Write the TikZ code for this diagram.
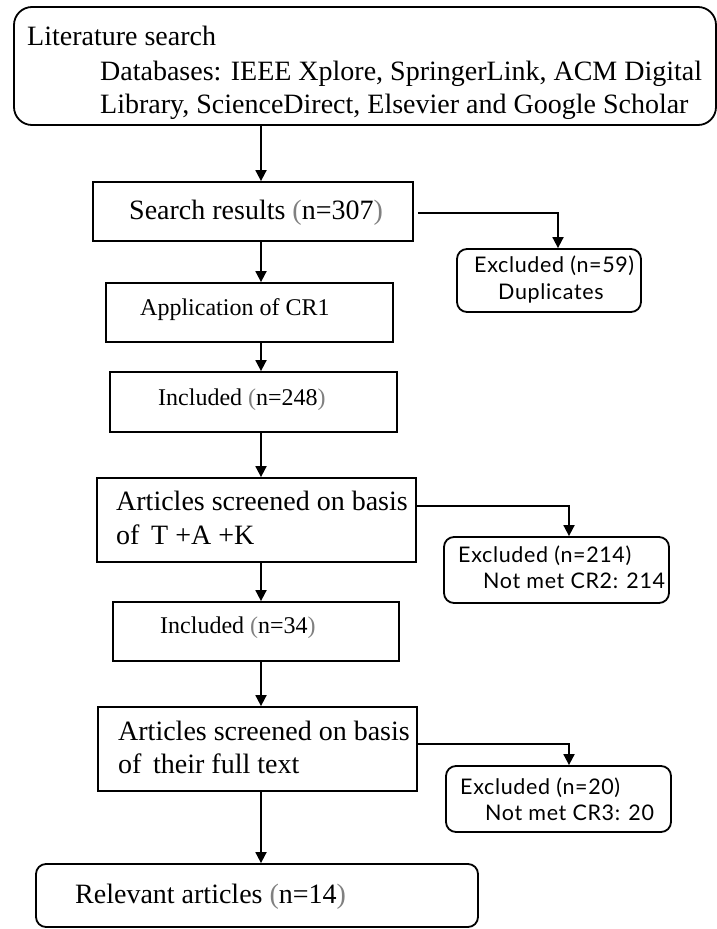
\documentclass[tikz,border=0pt]{standalone}
\usepackage{fontspec}
\setmainfont{Liberation Serif}
\newfontfamily\sansf[LetterSpace=3]{Lato}
\usetikzlibrary{arrows.meta}
\newcommand\gp[1]{\textcolor{black!50}{#1}}
\begin{document}
\begin{tikzpicture}[x=1pt,y=-1pt,
  sqbox/.style={draw, line width=1.8pt, rectangle, inner sep=0pt},
  rbox/.style={draw, line width=1.8pt, rectangle, rounded corners=10pt, inner sep=0pt},
  bigbox/.style={draw, line width=1.8pt, rectangle, rounded corners=18pt, inner sep=0pt},
  arr/.style={line width=1.8pt, -{Triangle[length=11pt,width=11pt]}},
  txt/.style={anchor=base west, inner sep=0pt},
  serA/.style={txt, font=\fontsize{28}{33}\selectfont},
  serB/.style={txt, font=\fontsize{24}{28}\selectfont},
  sanA/.style={txt, font=\sansf\fontsize{21.5}{25}\selectfont}]
\useasboundingbox (0,0) rectangle (717,929);
% boxes
\node[bigbox, minimum width=702pt, minimum height=118pt] (top) at (365,66) {};
\node[sqbox, minimum width=320pt, minimum height=59pt] (sr) at (253,211.5) {};
\node[rbox, minimum width=184pt, minimum height=63pt] (ex1) at (549,280.5) {};
\node[sqbox, minimum width=287pt, minimum height=59pt] (app) at (249.5,312.5) {};
\node[sqbox, minimum width=287pt, minimum height=60pt] (inc1) at (253.5,402) {};
\node[sqbox, minimum width=319pt, minimum height=84pt] (art1) at (256.5,520) {};
\node[rbox, minimum width=225pt, minimum height=66pt] (ex2) at (556.5,570) {};
\node[sqbox, minimum width=286pt, minimum height=59pt] (inc2) at (256,631.5) {};
\node[sqbox, minimum width=319pt, minimum height=84pt] (art2) at (257.5,749) {};
\node[rbox, minimum width=225pt, minimum height=66pt] (ex3) at (558.5,799) {};
\node[rbox, minimum width=442pt, minimum height=63pt] (rel) at (257,895.5) {};
% texts
\node[serA] (t1) at (27,45) {Literature search};
\node[serA] (t2) at (100,80) {Databases: IEEE Xplore, SpringerLink, ACM Digital};
\node[serA] (t3) at (100,113) {Library, ScienceDirect, Elsevier and Google Scholar};
\node[serA] (tsr) at (129,219) {Search results \gp{(}n=307\gp{)}};
\node[sanA] (te1a) at (474,272) {Excluded (n=59)};
\node[sanA] (te1b) at (498,299) {Duplicates};
\node[serB] (tapp) at (140,315) {Application of CR1};
\node[serB] (tinc1) at (158,405) {Included \gp{(}n=248\gp{)}};
\node[serA] (ta1a) at (116,510) {Articles screened on basis};
\node[serA] (ta1b) at (116,544) {of\, T +A +K};
\node[sanA] (te2a) at (458,562) {Excluded (n=214)};
\node[sanA] (te2b) at (483,588) {Not met CR2: 214};
\node[serB] (tinc2) at (160,633) {Included \gp{(}n=34\gp{)}};
\node[serA] (ta2a) at (118,740) {Articles screened on basis};
\node[serA] (ta2b) at (118,773) {of\, their full text};
\node[sanA] (te3a) at (460,794) {Excluded (n=20)};
\node[sanA] (te3b) at (485,820) {Not met CR3: 20};
\node[serA] (trel) at (75,903) {Relevant articles \gp{(}n=14\gp{)}};
% connectors
\coordinate (ax) at (261,0);
\draw[arr] (top.south -| ax) -- (sr.north -| ax);
\draw[arr] (sr.south -| ax) -- (app.north -| ax);
\draw[arr] (app.south -| ax) -- (inc1.north -| ax);
\draw[arr] (inc1.south -| ax) -- (art1.north -| ax);
\draw[arr] (art1.south -| ax) -- (inc2.north -| ax);
\draw[arr] (inc2.south -| ax) -- (art2.north -| ax);
\draw[arr] (art2.south -| ax) -- (rel.north -| ax);
\draw[arr] ([shift={(4pt,-1.5pt)}]sr.east) -| ([xshift=9pt]ex1.north);
\draw[arr] ([yshift=14pt]art1.east) -| ([xshift=12.5pt]ex2.north);
\draw[arr] ([yshift=5pt]art2.east) -| ([xshift=10.5pt]ex3.north);
\end{tikzpicture}
\end{document}
